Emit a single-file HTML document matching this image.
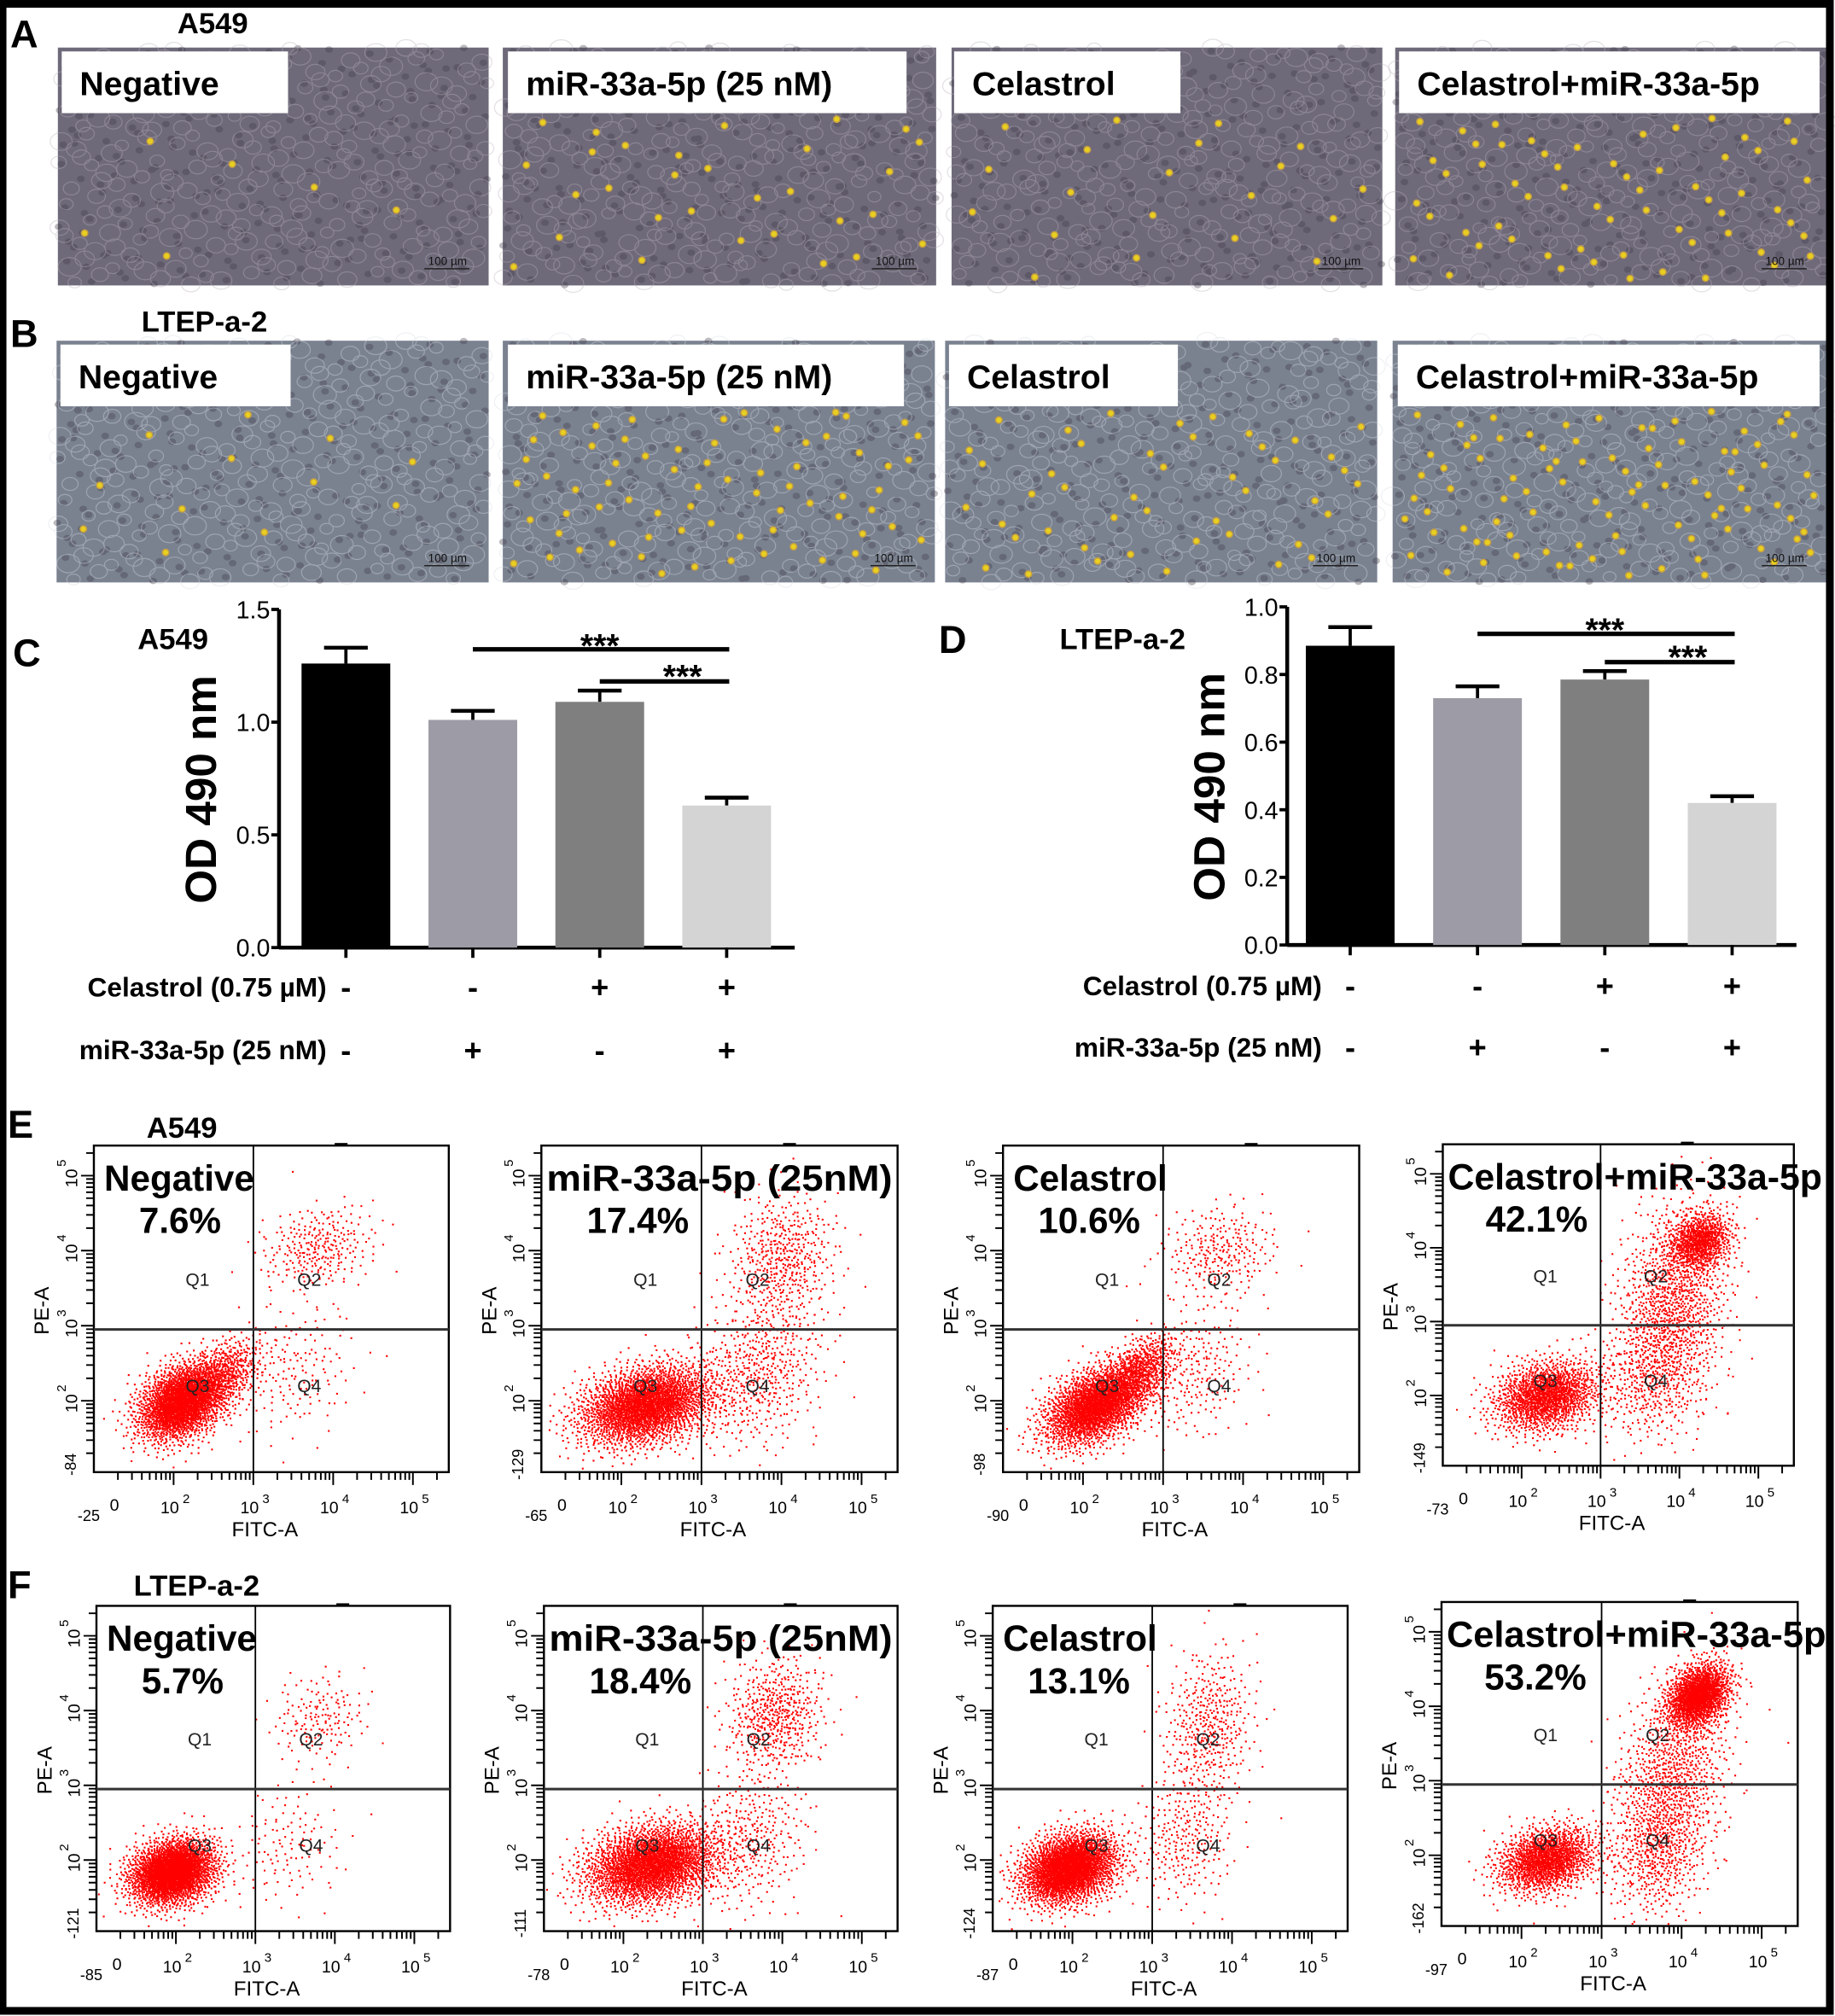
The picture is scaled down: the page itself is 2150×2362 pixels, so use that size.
<!DOCTYPE html>
<html><head><meta charset="utf-8"><style>
html,body{margin:0;padding:0;background:#fff;}
svg{display:block;}
text{font-family:"Liberation Sans",sans-serif;}
</style></head><body>
<svg id="fig" xmlns="http://www.w3.org/2000/svg" width="2150" height="2362" viewBox="0 0 1427 1568" preserveAspectRatio="none">
<rect x="0" y="0" width="1427" height="1568" fill="#fff"/>
<g id="photos"></g>
<g id="chartC"></g>
<g id="chartD"></g>
<g id="flow"></g>
<g font-weight="bold" fill="#000">
<text x="8" y="37" font-size="30">A</text>
<text x="138" y="26" font-size="23">A549</text>
<text x="8" y="270" font-size="30">B</text>
<text x="110" y="258" font-size="23">LTEP-a-2</text>
<text x="10" y="518" font-size="30">C</text>
<text x="107" y="505" font-size="23">A549</text>
<text x="730" y="508" font-size="30">D</text>
<text x="824" y="505" font-size="23">LTEP-a-2</text>
<text x="6" y="885" font-size="30">E</text>
<text x="114" y="885" font-size="23">A549</text>
<text x="6" y="1243" font-size="30">F</text>
<text x="104" y="1241" font-size="23">LTEP-a-2</text>
</g>
<rect x="2" y="3" width="1421" height="1561" fill="none" stroke="#000" stroke-width="6"/>
</svg>
<script>
// ---------- Bar chart data ----------
const barCategories = ['Negative','miR-33a-5p','Celastrol','Celastrol+miR-33a-5p'];
const cValues = [1.26, 1.01, 1.09, 0.63];
const cErrors = [0.07, 0.04, 0.05, 0.035];
const cTicks = [0, 0.5, 1.0, 1.5];
const dValues = [0.885, 0.73, 0.785, 0.42];
const dErrors = [0.055, 0.035, 0.025, 0.02];
const dTicks = [0, 0.2, 0.4, 0.6, 0.8, 1.0];
const celastrolSigns = ['-','-','+','+'];
const mirSigns = ['-','+','-','+'];
// ---------- Flow cytometry data ----------
const flowTitles = ['Negative','miR-33a-5p (25nM)','Celastrol','Celastrol+miR-33a-5p','Negative','miR-33a-5p (25nM)','Celastrol','Celastrol+miR-33a-5p'];
const flowPercents = ['7.6%','17.4%','10.6%','42.1%','5.7%','18.4%','13.1%','53.2%'];
const flowXMin = ['-25','-65','-90','-73','-85','-78','-87','-97'];
const flowYMin = ['-84','-129','-98','-149','-121','-111','-124','-162'];
// clusters: [cx, cy, sx, sy, rho, count] in log-decade units
const flowClusters = [
 [[2.1,2.0,0.28,0.26,0.35,2300],[2.6,2.35,0.25,0.25,0.5,500],[3.8,4.05,0.35,0.28,0.2,280],[3.5,2.4,0.4,0.45,0.2,160]],
 [[2.3,1.95,0.42,0.27,0.3,2600],[4.0,3.9,0.33,0.45,0.1,500],[3.7,2.4,0.4,0.5,0.2,500]],
 [[2.15,1.95,0.32,0.27,0.45,2300],[2.7,2.4,0.22,0.25,0.5,600],[3.7,4.0,0.35,0.3,0.1,260],[3.4,2.4,0.35,0.45,0.2,220]],
 [[2.3,2.0,0.33,0.24,0.2,1500],[4.25,4.1,0.2,0.2,0.2,800],[3.9,3.2,0.35,0.7,0.2,1200],[3.6,2.2,0.35,0.4,0.1,300]],
 [[1.95,1.85,0.27,0.22,0.2,2500],[3.8,3.9,0.3,0.3,0.1,160],[3.4,2.2,0.35,0.4,0.1,120]],
 [[2.35,1.95,0.42,0.27,0.25,2700],[3.9,3.95,0.3,0.38,0.1,520],[3.6,2.3,0.35,0.5,0.1,320]],
 [[1.95,1.9,0.3,0.24,0.25,2500],[3.7,3.8,0.28,0.5,0.1,420],[3.4,2.3,0.3,0.45,0.1,260]],
 [[2.3,1.95,0.3,0.22,0.25,1500],[4.2,4.15,0.2,0.22,0.3,1500],[3.85,3.0,0.35,0.65,0.3,1000],[3.7,2.0,0.3,0.4,0.1,400]]
];
const flowBoxes = [[73,891,349,1145],[421,891,698,1145],[780,891,1057,1145],[1122,890,1395,1140],
                   [75,1249,350,1502],[423,1249,698,1502],[772,1249,1048,1502],[1121,1246,1398,1498]];

const NS='http://www.w3.org/2000/svg';
function mk(tag, attrs, parent){const e=document.createElementNS(NS,tag);for(const k in attrs)e.setAttribute(k,attrs[k]);if(parent)parent.appendChild(e);return e;}
function halton(i,b){let f=1,r=0;while(i>0){f/=b;r+=f*(i%b);i=Math.floor(i/b);}return r;}

// ---------- Photos ----------
const photosG=document.getElementById('photos');
const photoRows=[{y:37,h:185,base:'#6f6a7a',line:'#b8b0b8',names:['Negative','miR-33a-5p (25 nM)','Celastrol','Celastrol+miR-33a-5p'],
  xs:[[45,380],[391,728],[740,1075],[1085,1420]],boxes:[[48,224],[395,705],[742,918],[1088,1415]],yellow:[6,30,20,60]},
 {y:265,h:188,base:'#7a8290',line:'#d4dae2',names:['Negative','miR-33a-5p (25 nM)','Celastrol','Celastrol+miR-33a-5p'],
  xs:[[44,380],[391,727],[735,1071],[1083,1420]],boxes:[[47,226],[395,703],[738,916],[1087,1415]],yellow:[12,70,45,90]}];
photoRows.forEach((row,ri)=>{
  row.xs.forEach((xx,pi)=>{
    const g=mk('g',{},photosG);
    
    
    const w=xx[1]-xx[0];
    mk('rect',{x:xx[0],y:row.y,width:w,height:row.h,fill:row.base},g);
    let dd='';
    for(let j=1;j<=260;j++){const px=xx[0]+halton(j+pi*500+7,3)*w, py=row.y+halton(j+pi*500+7,5)*row.h;
      dd+=`M${(px-3).toFixed(1)} ${py.toFixed(1)}a3 2.5 0 1 0 6 0a3 2.5 0 1 0 -6 0`;}
    mk('path',{d:dd,fill:'#3e3a48',opacity:0.35},g);
    let d='';
    for(let j=1;j<=260;j++){const px=xx[0]+halton(j+pi*300,2)*w, py=row.y+halton(j+pi*300,3)*row.h;
      const r=5+halton(j,5)*4; d+=`M${(px-r).toFixed(1)} ${py.toFixed(1)}a${r} ${r*0.8} 0 1 0 ${2*r} 0a${r} ${r*0.8} 0 1 0 ${-2*r} 0`;}
    mk('path',{d:d,fill:'none',stroke:row.line,'stroke-width':0.8,opacity:0.4},g);
    let yd='';
    for(let j=1;j<=row.yellow[pi];j++){const px=xx[0]+8+halton(j+pi*97,5)*(w-16), py=row.y+55+halton(j+pi*97,7)*(row.h-60);
      yd+=`M${(px-2.5).toFixed(1)} ${py.toFixed(1)}a2.5 2.5 0 1 0 5 0a2.5 2.5 0 1 0 -5 0`;}
    mk('path',{d:yd,fill:'#e8d020',stroke:'#c8a040','stroke-width':1},g);
    const b=row.boxes[pi];
    const lb=mk('rect',{x:b[0],y:row.y+3,width:b[1]-b[0],height:48,fill:'#fff'},g);
    
    
    const t=mk('text',{x:b[0]+14,y:row.y+37,'font-size':26,'font-weight':'bold',fill:'#000'},g);
    t.textContent=row.names[pi];
    
    
    mk('line',{x1:xx[1]-50,y1:row.y+row.h-13,x2:xx[1]-15,y2:row.y+row.h-13,stroke:'#222','stroke-width':1},g);
    const s=mk('text',{x:xx[1]-32,y:row.y+row.h-16,'font-size':9,'text-anchor':'middle',fill:'#111'},g);
    s.textContent='100 µm';
    
    
  });
});

// ---------- Bar charts ----------
function barChart(gid, values, errors, ticks, cfg){
  const g=document.getElementById(gid);
  const ymax=ticks[ticks.length-1];
  const yS=v=>cfg.y0-(v/ymax)*(cfg.y0-cfg.yTop);
  const xC=i=>cfg.firstC+i*cfg.step;
  mk('line',{x1:cfg.ax,y1:cfg.yTop,x2:cfg.ax,y2:cfg.y0+1,stroke:'#000','stroke-width':3},g);
  mk('line',{x1:cfg.ax,y1:cfg.y0,x2:cfg.xEnd,y2:cfg.y0,stroke:'#000','stroke-width':3},g);
  ticks.forEach(t=>{
    mk('line',{x1:cfg.ax-6,y1:yS(t),x2:cfg.ax,y2:yS(t),stroke:'#000','stroke-width':2.5},g);
    const tl=mk('text',{x:cfg.ax-7,y:yS(t)+7,'font-size':19,'text-anchor':'end',fill:'#000'},g);
    tl.textContent=t.toFixed(1);
    
    
  });
  const colors=['#000000','#9d9ca6','#7f7f7f','#d4d4d4'];
  values.forEach((v,i)=>{
    const x=xC(i);
    mk('line',{x1:x,y1:yS(v),x2:x,y2:yS(v+errors[i]),stroke:'#000','stroke-width':2.5},g);
    mk('line',{x1:x-17,y1:yS(v+errors[i]),x2:x+17,y2:yS(v+errors[i]),stroke:'#000','stroke-width':3},g);
    const r=mk('rect',{x:x-cfg.bw/2,y:yS(v),width:cfg.bw,height:cfg.y0-yS(v),fill:colors[i]},g);
    
    
    mk('line',{x1:x,y1:cfg.y0,x2:x,y2:cfg.y0+8,stroke:'#000','stroke-width':2.5},g);
    const s1=mk('text',{x:x,y:cfg.row1+8,'font-size':24,'font-weight':'bold','text-anchor':'middle'},g);
    s1.textContent=celastrolSigns[i];
    
    
    const s2=mk('text',{x:x,y:cfg.row2+8,'font-size':24,'font-weight':'bold','text-anchor':'middle'},g);
    s2.textContent=mirSigns[i];
    
    
  });
  const l1y=cfg.sig1, l2y=cfg.sig2;
  mk('line',{x1:xC(1),y1:l1y,x2:xC(3)+2,y2:l1y,stroke:'#000','stroke-width':3.5},g);
  mk('line',{x1:xC(2),y1:l2y,x2:xC(3)+2,y2:l2y,stroke:'#000','stroke-width':3.5},g);
  const st1=mk('text',{x:(xC(1)+xC(3))/2,y:l1y+6,'font-size':26,'font-weight':'bold','text-anchor':'middle'},g);
  st1.textContent='***';
  
  
  const st2=mk('text',{x:(xC(2)+xC(3))/2+15,y:l2y+5,'font-size':26,'font-weight':'bold','text-anchor':'middle'},g);
  st2.textContent='***';
  
  
  const yt=mk('text',{x:cfg.titleX,y:cfg.titleY,'font-size':34,'font-weight':'bold','text-anchor':'middle',transform:`rotate(-90 ${cfg.titleX} ${cfg.titleY})`},g);
  yt.textContent='OD 490 nm';
  
  
  const r1=mk('text',{x:cfg.rowLabelX,y:cfg.row1+7,'font-size':21,'font-weight':'bold','text-anchor':'end'},g);
  r1.textContent='Celastrol (0.75 µM)';
  
  
  const r2=mk('text',{x:cfg.rowLabelX,y:cfg.row2+7,'font-size':21,'font-weight':'bold','text-anchor':'end'},g);
  r2.textContent='miR-33a-5p (25 nM)';
  
  
}
barChart('chartC',cValues,cErrors,cTicks,{ax:217,y0:737,yTop:474,xEnd:618,firstC:269,step:98.7,bw:69,row1:768,row2:817,sig1:505,sig2:530,titleX:168,titleY:614,rowLabelX:254});
barChart('chartD',dValues,dErrors,dTicks,{ax:1001,y0:735,yTop:472,xEnd:1397,firstC:1050,step:99,bw:69,row1:767,row2:815,sig1:493,sig2:515,titleX:952,titleY:612,rowLabelX:1028});

// ---------- Flow cytometry ----------
const flowG=document.getElementById('flow');
const XD=[1.0,5.45], YD=[1.05,5.4];
flowBoxes.forEach((b,p)=>{
  const g=mk('g',{},flowG);
  
  
  const [x0,y0,x1,y1]=b;
  const sx=u=>x0+(u-XD[0])/(XD[1]-XD[0])*(x1-x0);
  const sy=u=>y1-(u-YD[0])/(YD[1]-YD[0])*(y1-y0);
  flowClusters[p].forEach((c,ci)=>{
    const [cx,cy,sdx,sdy,rho,n]=c;
    let d='';
    const off=p*9000+ci*3000+1;
    for(let j=0;j<n;j++){
      const u1=Math.max(halton(j+off,2),1e-4), u2=halton(j+off,3);
      const r=Math.sqrt(-2*Math.log(u1)), gx=r*Math.cos(2*Math.PI*u2), gy=r*Math.sin(2*Math.PI*u2);
      const vx=cx+sdx*gx, vy=cy+sdy*(rho*gx+Math.sqrt(1-rho*rho)*gy);
      const px=sx(vx), py=sy(vy);
      if(px<x0+1||px>x1-2||py<y0+1||py>y1-2)continue;
      d+=`M${px.toFixed(1)} ${py.toFixed(1)}h1.4v1.4h-1.4z`;
    }
    const path=mk('path',{d:d,fill:'#ff0000'},g);
    
    
  });
  mk('rect',{x:x0,y:y0,width:x1-x0,height:y1-y0,fill:'none',stroke:'#000','stroke-width':1.6},g);
  mk('line',{x1:sx(3),y1:y0,x2:sx(3),y2:y1,stroke:'#000','stroke-width':1.2},g);
  mk('line',{x1:x0,y1:sy(2.95),x2:x1,y2:sy(2.95),stroke:'#333','stroke-width':2},g);
  mk('line',{x1:sx(4.1)-5,y1:y0-1,x2:sx(4.1)+5,y2:y0-1,stroke:'#000','stroke-width':2},g);
  let td='';
  for(let dec=1;dec<=5;dec++){for(let k=1;k<=9;k++){const u=dec+Math.log10(k);
    if(u>XD[0]&&u<XD[1]){td+=`M${sx(u).toFixed(1)} ${y1}v${k==1?10:6}`;}
    if(u>YD[0]&&u<YD[1]){td+=`M${x0} ${sy(u).toFixed(1)}h${k==1?-10:-6}`;}}}
  mk('path',{d:td,stroke:'#000','stroke-width':1.3,fill:'none'},g);
  [[2,'10','2'],[3,'10','3'],[4,'10','4'],[5,'10','5']].forEach(t=>{
    const tx=mk('text',{x:sx(t[0])-3,y:y1+32,'font-size':13,'text-anchor':'middle',fill:'#000'},g);
    tx.textContent=t[1];
    
    
    const sp=mk('text',{x:sx(t[0])+7,y:y1+24,'font-size':10,fill:'#000'},g);
    sp.textContent=t[2];
    const ty=mk('text',{x:x0-13,y:sy(t[0])+2,'font-size':13,'text-anchor':'middle',fill:'#000',transform:`rotate(-90 ${x0-13} ${sy(t[0])+2})`},g);
    ty.textContent=t[1];
    
    
    const tys=mk('text',{x:x0-22,y:sy(t[0])-7,'font-size':10,fill:'#000',transform:`rotate(-90 ${x0-22} ${sy(t[0])-7})`},g);
    tys.textContent=t[2];
  });
  const z=mk('text',{x:x0+16,y:y1+30,'font-size':13,'text-anchor':'middle'},g); z.textContent='0';
  const xm=mk('text',{x:x0-4,y:y1+38,'font-size':12,'text-anchor':'middle'},g); xm.textContent=flowXMin[p];
  
  
  const ym=mk('text',{x:x0-14,y:y1-6,'font-size':12,'text-anchor':'middle',transform:`rotate(-90 ${x0-14} ${y1-6})`},g); ym.textContent=flowYMin[p];
  
  
  const xt=mk('text',{x:(x0+x1)/2-5,y:y1+50,'font-size':16,'text-anchor':'middle'},g); xt.textContent='FITC-A';
  
  
  const yTitle=mk('text',{x:x0-35,y:sy(3.2),'font-size':16,'text-anchor':'middle',transform:`rotate(-90 ${x0-35} ${sy(3.2)})`},g); yTitle.textContent='PE-A';
  
  
  [['Q1',2.3,3.62],['Q2',3.7,3.62],['Q3',2.3,2.2],['Q4',3.7,2.2]].forEach(q=>{
    const qt=mk('text',{x:sx(q[1]),y:sy(q[2])+5,'font-size':14,'text-anchor':'middle',fill:'#222'},g);
    qt.textContent=q[0];
    
    
  });
  const long=flowTitles[p].length>12;
  const ti=mk('text',{x:long?x0+4:x0+8,y:y0+35,'font-size':28,'font-weight':'bold'},g);
  ti.textContent=flowTitles[p];
  if(long){ti.setAttribute('textLength',(x1-x0)+(p%4==3?18:-8));ti.setAttribute('lengthAdjust','spacingAndGlyphs');}
  
  
  const pc=mk('text',{x:x0+(p%4==3?73:(p%4==1?75:67)),y:y0+68,'font-size':28,'font-weight':'bold','text-anchor':'middle'},g);
  pc.textContent=flowPercents[p];
  
  
});
</script>
</body></html>
